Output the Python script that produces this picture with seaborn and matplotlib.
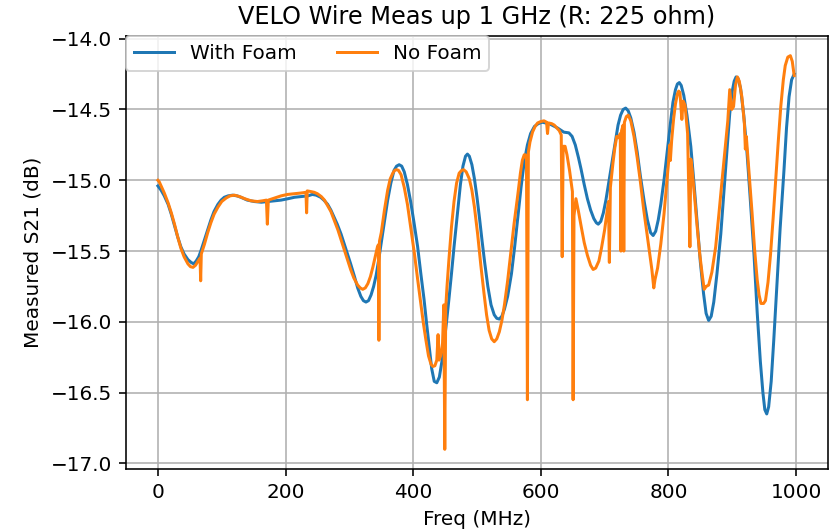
import matplotlib
matplotlib.use("Agg")
import matplotlib.pyplot as plt
import seaborn as sns
import pandas as pd

# S21 transmission of the VELO wire, 225 ohm termination, swept up to 1 GHz
freq_with_foam = [0, 5, 10, 16, 21, 26, 31, 36, 41, 47, 52, 56, 60, 64, 68, 73, 78, 83, 88, 94,
                  99, 104, 110, 117, 124, 130, 140, 151, 162, 172, 183, 193, 204, 214, 225,
                  235, 242, 248, 255, 260, 266, 271, 276, 281, 287, 292, 297, 302, 308, 313,
                  318, 322, 326, 330, 334, 338, 342, 346, 350, 355, 360, 365, 370, 374, 378,
                  382, 386, 391, 396, 401, 407, 412, 417, 421, 425, 429, 433, 437, 441, 445,
                  448, 452, 456, 460, 464, 469, 474, 478, 482, 485, 488, 492, 496, 500, 504,
                  508, 512, 517, 522, 527, 531, 535, 539, 543, 548, 554, 559, 564, 569, 574,
                  579, 584, 590, 596, 602, 613, 626, 636, 644, 649, 654, 659, 663, 668, 673,
                  678, 683, 687, 690, 694, 698, 702, 707, 712, 717, 721, 725, 729, 733, 737,
                  741, 746, 751, 756, 762, 767, 772, 776, 780, 784, 788, 793, 798, 803, 807,
                  811, 814, 817, 820, 824, 829, 835, 840, 845, 850, 855, 859, 863, 867, 871,
                  876, 882, 887, 892, 896, 900, 903, 906, 909, 913, 918, 923, 928, 934, 939,
                  944, 948, 951, 954, 957, 961, 965, 970, 975, 981, 985, 989, 993, 997]
s21_with_foam = [-15.04, -15.07, -15.11, -15.17, -15.24, -15.32, -15.40, -15.47, -15.52, -15.56,
                 -15.58, -15.59, -15.57, -15.54, -15.49, -15.42, -15.35, -15.28, -15.22, -15.17,
                 -15.14, -15.12, -15.11, -15.105, -15.11, -15.12, -15.14, -15.15, -15.155,
                 -15.15, -15.145, -15.14, -15.13, -15.12, -15.115, -15.11, -15.10, -15.105,
                 -15.12, -15.14, -15.17, -15.21, -15.26, -15.31, -15.38, -15.45, -15.52,
                 -15.59, -15.68, -15.76, -15.82, -15.85, -15.86, -15.85, -15.81, -15.75,
                 -15.67, -15.56, -15.44, -15.29, -15.14, -15.02, -14.93, -14.90, -14.89,
                 -14.90, -14.94, -15.03, -15.15, -15.29, -15.47, -15.66, -15.84, -16.01,
                 -16.17, -16.33, -16.42, -16.43, -16.39, -16.28, -16.17, -16.01, -15.84,
                 -15.66, -15.47, -15.25, -15.03, -14.90, -14.83, -14.815, -14.83, -14.89,
                 -14.99, -15.12, -15.27, -15.43, -15.58, -15.75, -15.88, -15.95, -15.975,
                 -15.98, -15.96, -15.91, -15.82, -15.66, -15.47, -15.26, -15.05, -14.87,
                 -14.75, -14.67, -14.62, -14.60, -14.59, -14.60, -14.63, -14.66, -14.665,
                 -14.69, -14.75, -14.84, -14.92, -15.03, -15.13, -15.21, -15.27, -15.30,
                 -15.31, -15.29, -15.23, -15.14, -15.00, -14.86, -14.72, -14.61, -14.54,
                 -14.50, -14.49, -14.51, -14.56, -14.66, -14.80, -14.97, -15.15, -15.28,
                 -15.37, -15.39, -15.36, -15.28, -15.17, -15.00, -14.80, -14.60, -14.45,
                 -14.36, -14.32, -14.31, -14.33, -14.40, -14.54, -14.76, -15.02, -15.30,
                 -15.58, -15.80, -15.94, -15.99, -15.96, -15.86, -15.66, -15.38, -15.07,
                 -14.77, -14.53, -14.37, -14.30, -14.27, -14.28, -14.35, -14.54, -14.80,
                 -15.12, -15.52, -15.93, -16.28, -16.50, -16.62, -16.65, -16.60, -16.42,
                 -16.13, -15.74, -15.34, -14.93, -14.63, -14.41, -14.29, -14.25]

freq_no_foam = [0, 2, 5, 10, 16, 21, 26, 31, 36, 41, 47, 51, 55, 59, 63, 66, 67, 68, 73, 78, 83,
                88, 94, 100, 107, 113, 120, 128, 136, 146, 156, 164, 170, 171.5, 173, 183, 193,
                203, 214, 224, 232, 233, 234, 240, 245, 250, 256, 261, 266, 271, 276, 282, 287,
                292, 297, 302, 307, 313, 317, 321, 325, 329, 333, 337, 341, 344, 345.5, 346.3,
                347.2, 350, 355, 360, 364, 368, 371, 374, 377, 381, 386, 391, 396, 402, 407,
                412, 416, 420, 424, 428, 431, 434, 437, 439, 440.5, 443, 446, 448, 449.5, 451,
                453, 456, 460, 464, 468, 472, 476, 479, 483, 488, 492, 496, 501, 506, 511, 515,
                519, 523, 527, 531, 535, 539, 543, 548, 553, 558, 564, 568, 571, 574, 576,
                577.5, 579, 580.5, 583, 587, 591, 595, 600, 605, 609, 610.5, 612, 617, 621,
                625, 629, 632, 633.5, 635, 638, 641, 645, 649.5, 650.6, 652, 655, 659, 663,
                668, 673, 678, 682, 686, 691, 695, 700, 704, 706, 707.4, 709, 713, 716, 719,
                722, 724.5, 725.5, 726.5, 729, 730, 731, 734, 737, 741, 746, 751, 756, 761,
                767, 771, 774, 777, 779, 783, 788, 793, 797, 800, 802, 803, 805, 808, 811, 814,
                816, 818, 821, 823, 826, 830, 833.6, 835, 837, 841, 845, 849, 853, 856, 859,
                863, 868, 874, 879, 884, 889, 893, 896, 899, 902, 905, 908, 911, 915, 919,
                920.5, 922, 926, 931, 935, 939, 942, 945, 949, 952, 956, 960, 964, 968, 972,
                976, 980, 983, 987, 991, 994, 997]
s21_no_foam = [-15.00, -15.01, -15.04, -15.09, -15.16, -15.23, -15.31, -15.40, -15.48, -15.54,
               -15.59, -15.61, -15.615, -15.60, -15.57, -15.55, -15.71, -15.52, -15.45, -15.37,
               -15.30, -15.24, -15.19, -15.15, -15.125, -15.11, -15.105, -15.115, -15.13,
               -15.145, -15.15, -15.145, -15.14, -15.31, -15.14, -15.125, -15.11, -15.10,
               -15.095, -15.09, -15.085, -15.23, -15.075, -15.08, -15.085, -15.095, -15.115,
               -15.14, -15.18, -15.22, -15.28, -15.35, -15.42, -15.49, -15.56, -15.63, -15.69,
               -15.74, -15.76, -15.77, -15.76, -15.73, -15.68, -15.61, -15.53, -15.47,
               -15.455, -16.13, -15.43, -15.37, -15.21, -15.07, -14.99, -14.95, -14.93,
               -14.925, -14.93, -14.96, -15.05, -15.17, -15.33, -15.52, -15.70, -15.87,
               -16.01, -16.13, -16.24, -16.30, -16.315, -16.31, -16.27, -16.09, -16.27,
               -16.24, -16.15, -15.88, -16.90, -15.90, -15.75, -15.56, -15.33, -15.15,
               -15.02, -14.95, -14.93, -14.925, -14.94, -14.99, -15.07, -15.19, -15.38,
               -15.60, -15.80, -15.95, -16.06, -16.12, -16.14, -16.12, -16.07, -15.99,
               -15.88, -15.71, -15.51, -15.31, -15.10, -14.95, -14.86, -14.82, -14.82,
               -14.85, -16.55, -14.80, -14.73, -14.66, -14.62, -14.595, -14.585, -14.58,
               -14.59, -14.67, -14.595, -14.60, -14.61, -14.63, -14.65, -14.68, -15.54,
               -14.76, -14.76, -14.82, -14.93, -15.08, -16.55, -15.25, -15.13, -15.22,
               -15.32, -15.44, -15.53, -15.60, -15.63, -15.62, -15.57, -15.48, -15.35,
               -15.22, -15.15, -15.58, -15.05, -14.88, -14.77, -14.69, -14.70, -14.67,
               -15.50, -14.65, -14.61, -15.50, -14.59, -14.55, -14.54, -14.58, -14.69,
               -14.84, -15.01, -15.20, -15.40, -15.53, -15.63, -15.76, -15.70, -15.62,
               -15.45, -15.24, -15.03, -14.88, -14.75, -14.86, -14.72, -14.57, -14.46,
               -14.39, -14.37, -14.38, -14.57, -14.44, -14.47, -14.67, -15.47, -14.85,
               -14.92, -15.12, -15.33, -15.52, -15.67, -15.77, -15.75, -15.74, -15.65,
               -15.47, -15.24, -15.00, -14.77, -14.58, -14.36, -14.50, -14.48, -14.33,
               -14.27, -14.30, -14.41, -14.60, -14.78, -14.69, -14.93, -15.23, -15.49,
               -15.70, -15.81, -15.87, -15.87, -15.85, -15.72, -15.52, -15.27, -15.00,
               -14.73, -14.48, -14.29, -14.19, -14.13, -14.12, -14.16, -14.26]

series_names = ["With Foam", "No Foam"]
series_colors = ["#1f77b4", "#ff7f0e"]

df = pd.concat([
    pd.DataFrame({"Freq": freq_with_foam, "S21": s21_with_foam, "Series": series_names[0]}),
    pd.DataFrame({"Freq": freq_no_foam, "S21": s21_no_foam, "Series": series_names[1]}),
], ignore_index=True)

dpi = 144
fig = plt.figure(figsize=(839 / dpi, 532 / dpi), dpi=dpi)
ax = fig.add_axes([126 / 839, 1 - 469 / 532, (828 - 126) / 839, (469 - 36) / 532])

sns.lineplot(data=df, x="Freq", y="S21", hue="Series", hue_order=series_names,
             palette=series_colors, estimator=None, sort=False, linewidth=1.5, ax=ax)

ax.set_xlim(-50, 1050)
ax.grid(True)
ax.set_axisbelow(True)
ax.set_title("VELO Wire Meas up 1 GHz (R: 225 ohm)")
ax.set_xlabel("Freq (MHz)")
ax.set_ylabel("Measured S21 (dB)")

handles, labels = ax.get_legend_handles_labels()
ax.legend(handles, labels, ncol=2, loc="upper left", bbox_to_anchor=(0, 1),
          borderaxespad=0)

fig.savefig("out.png", dpi=dpi)
